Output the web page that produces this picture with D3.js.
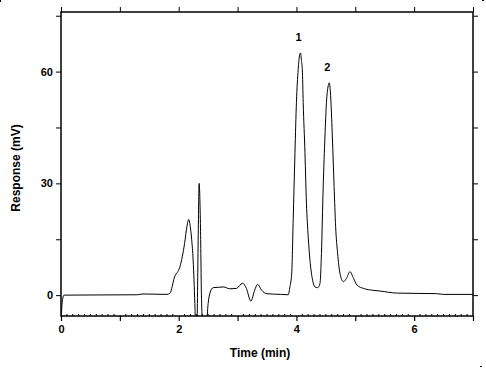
<!DOCTYPE html>
<html>
<head>
<meta charset="utf-8">
<script src="https://cdn.jsdelivr.net/npm/d3@7"></script>
<style>
  body { margin: 0; background: #fff; }
  svg { display: block; }
  text { font-family: "Liberation Sans", Arial, sans-serif; font-weight: bold; fill: #000; }
</style>
</head>
<body>
<div id="chart"></div>
<script>
// Chromatogram trace (time in min, response in mV)
const timeMin = [0, 0.02, 0.05, 1.3, 1.38, 1.45, 1.8, 1.85, 1.93, 2.02, 2.1, 2.14, 2.17, 2.2, 2.22, 2.245,
    2.274, 2.29, 2.31, 2.33, 2.347, 2.37, 2.386, 2.415, 2.47, 2.5, 2.53, 2.585, 2.67, 2.755, 2.87, 2.98,
    3.085, 3.15, 3.226, 3.29, 3.34, 3.41, 3.49, 3.73, 3.86, 3.89, 3.92, 3.945, 3.975, 4.0, 4.03, 4.055,
    4.07, 4.085, 4.1, 4.115, 4.145, 4.17, 4.2, 4.23, 4.275, 4.315, 4.36, 4.4, 4.425, 4.455, 4.485, 4.51,
    4.54, 4.557, 4.575, 4.587, 4.61, 4.64, 4.666, 4.7, 4.74, 4.8, 4.85, 4.91, 4.97, 5.03, 5.14, 5.3,
    5.42, 5.7, 6.1, 6.38, 6.5, 7.0];
const responseMv = [-8, -2, 0, 0.1, 0.3, 0.3, 0.2, 0.5, 4.9, 7.6, 13.9, 18.5, 20.3, 18, 15, 9.4,
    -2.2, -10, -8, 14, 30, 18, 0, -10, -8, -2.2, 0.5, 2, 2.1, 2.2, 1.7, 1.8,
    3.2, 1.8, -1.6, 1.3, 2.9, 1.3, 0.4, 0.2, 0.1, 2.3, 5.8, 20.2, 38.2, 51.7, 60.6, 64.5,
    65, 63, 60.6, 51.7, 38.2, 24.7, 15.7, 9.4, 4, 2.2, 2.0, 3.1, 11.2, 29.2, 42.7, 51.7,
    56.2, 57, 55, 51.7, 42.7, 29.2, 18.4, 11.2, 5.8, 3.6, 4.5, 6.3, 4.5, 2.7, 1.8, 1.3,
    1.1, 0.55, 0.45, 0.4, 0.2, 0.2];

// Peak labels
const peakNames = ["1", "2"];
const peakTimes = [4.07, 4.557];
const peakHeights = [65, 57];

// Axis ticks
const xMajor = [0, 1, 2, 3, 4, 5, 6, 7];
const xLabelled = [0, 2, 4, 6];
const yMajor = [0, 15, 30, 45, 60, 75];
const yLabelled = [0, 30, 60];

const W = 486, H = 368;
const margin = { top: 12, right: 13, bottom: 52, left: 61 };
const w = W - margin.left - margin.right,
      h = H - margin.top - margin.bottom;

const svg = d3.select("#chart").append("svg")
    .attr("width", W)
    .attr("height", H);

const g = svg.append("g")
    .attr("transform", "translate(" + margin.left + "," + margin.top + ")");

const x = d3.scaleLinear().domain([0, 7]).range([0, w]);
const y = d3.scaleLinear().domain([-5.6, 76]).range([h, 0]);

svg.append("defs").append("clipPath").attr("id", "plot-clip")
    .append("rect").attr("width", w).attr("height", h);

// Trace
const data = timeMin.map((t, i) => ({ t: t, v: responseMv[i] }));
g.append("path")
    .datum(data)
    .attr("clip-path", "url(#plot-clip)")
    .attr("fill", "none")
    .attr("stroke", "#000")
    .attr("stroke-width", 1)
    .attr("d", d3.line().x(d => x(d.t)).y(d => y(d.v)).curve(d3.curveMonotoneX));

// Frame
g.append("rect")
    .attr("width", w).attr("height", h)
    .attr("fill", "none").attr("stroke", "#000").attr("stroke-width", 1.5);

// Bottom axis: major ticks outward, minor ticks inward every 0.1
const bottomAxis = g.append("g").attr("transform", "translate(0," + h + ")");
bottomAxis.call(d3.axisBottom(x).tickValues(xMajor).tickSize(5).tickPadding(4)
    .tickFormat(d => xLabelled.includes(d) ? d3.format("d")(d) : ""));
bottomAxis.selectAll(".tick line").attr("stroke-width", 1.2);
bottomAxis.append("g").selectAll("line")
    .data(d3.range(1, 70).filter(i => i % 10 !== 0).map(i => i / 10))
    .join("line")
    .attr("x1", d => x(d)).attr("x2", d => x(d))
    .attr("y1", 0).attr("y2", -2)
    .attr("stroke", "#000");

// Top axis: major ticks outward only
const topAxis = g.append("g");
topAxis.call(d3.axisTop(x).tickValues(xMajor).tickSize(5).tickFormat(""));

// Left axis
const leftAxis = g.append("g");
leftAxis.call(d3.axisLeft(y).tickValues(yMajor).tickSize(5).tickPadding(3)
    .tickFormat(d => yLabelled.includes(d) ? d3.format("d")(d) : ""));

// Right axis
const rightAxis = g.append("g").attr("transform", "translate(" + w + ",0)");
rightAxis.call(d3.axisRight(y).tickValues(yMajor).tickSize(5).tickFormat(""));

[bottomAxis, topAxis, leftAxis, rightAxis].forEach(a => {
    a.select(".domain").remove();
    a.selectAll("text").style("font-size", "11px").attr("fill", "#000");
});

// Peak labels
g.selectAll(".peak-label")
    .data(peakNames)
    .join("text")
    .attr("class", "peak-label")
    .attr("x", (d, i) => x(peakTimes[i]) - 2)
    .attr("y", (d, i) => y(peakHeights[i]) - 12)
    .attr("text-anchor", "middle")
    .style("font-size", "11px")
    .text(d => d);

// Axis titles
svg.append("text")
    .attr("x", 260).attr("y", 357)
    .attr("text-anchor", "middle")
    .style("font-size", "12px")
    .text("Time (min)");

svg.append("text")
    .attr("transform", "translate(20,168) rotate(-90)")
    .attr("text-anchor", "middle")
    .style("font-size", "12px")
    .text("Response (mV)");

// small crop marks seen at the page corners
svg.append("rect").attr("x", 0).attr("y", 0).attr("width", 1).attr("height", 2).attr("fill", "#000");
svg.append("rect").attr("x", 482).attr("y", 0).attr("width", 2).attr("height", 1).attr("fill", "#000");
svg.append("rect").attr("x", 480).attr("y", 366).attr("width", 2).attr("height", 1).attr("fill", "#000");
</script>
</body>
</html>
